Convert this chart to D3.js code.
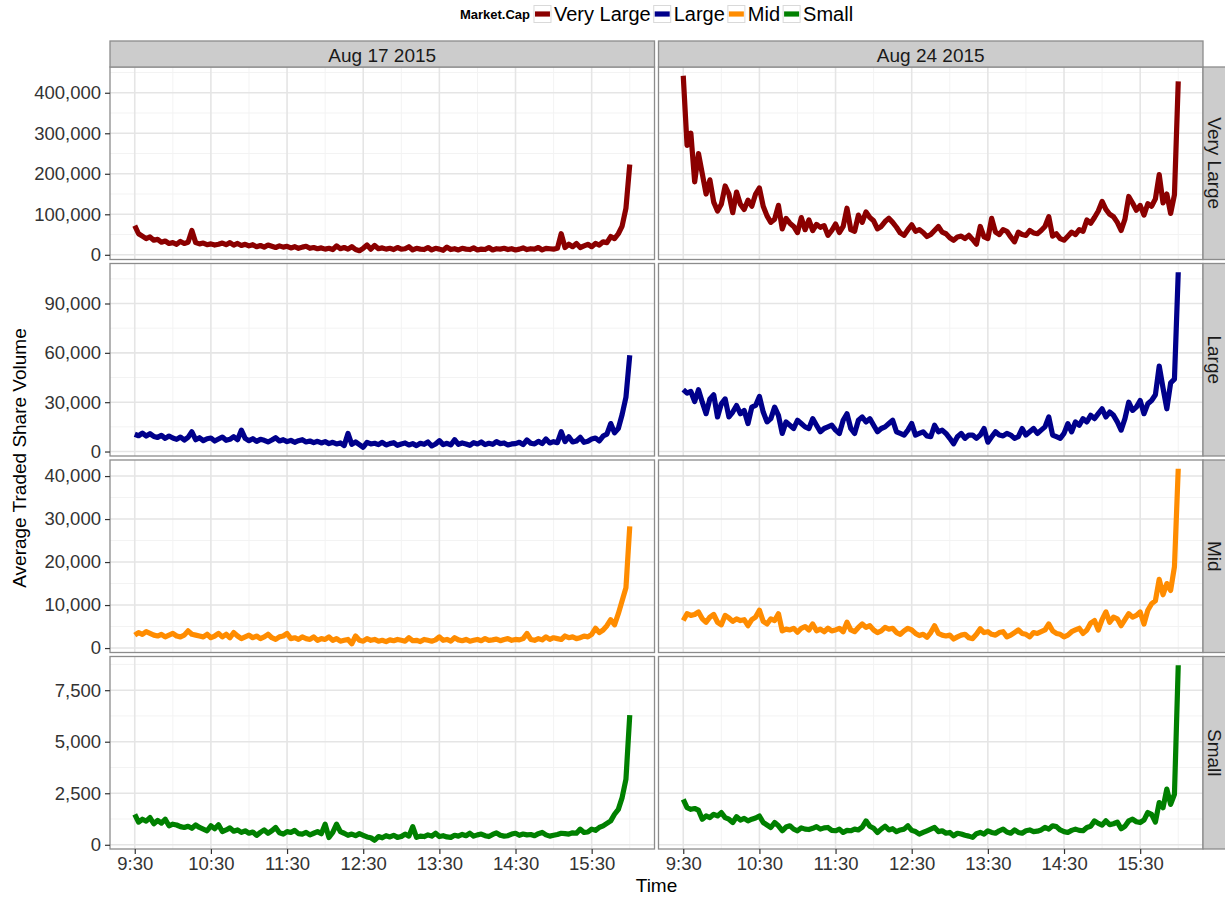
<!DOCTYPE html>
<html>
<head>
<meta charset="utf-8">
<script src="https://cdn.jsdelivr.net/npm/d3@7"></script>
<style>
  body { margin: 0; background: #fff; }
  text { font-family: "Liberation Sans", Arial, Helvetica, sans-serif; }
</style>
</head>
<body>
<svg id="chart" width="1225" height="901"></svg>
<script>
// ---- facets and styling keys ----
const dates = ["Aug 17 2015", "Aug 24 2015"];
const caps = ["Very Large", "Large", "Mid", "Small"];
const capColors = ["#8B0000", "#00008B", "#FF8C00", "#008000"];

// ---- time axis: samples every 3 minutes from 9:30 to 16:00 ----
const stepMinutes = 3;
const timeTickMinutes = [0, 60, 120, 180, 240, 300, 360];
const timeTickLabels = ["9:30", "10:30", "11:30", "12:30", "13:30", "14:30", "15:30"];

// ---- y ticks per market-cap row ----
const yTicksVeryLarge = [0, 100000, 200000, 300000, 400000];
const yTicksLarge = [0, 30000, 60000, 90000];
const yTicksMid = [0, 10000, 20000, 30000, 40000];
const yTicksSmall = [0, 2500, 5000, 7500];

// ---- average traded share volume (thousands of shares) ----
const veryLargeAug17 = [
  72, 52, 46, 40, 44, 36, 38, 31, 34, 28,
  30, 26, 33, 28, 31, 60, 30, 27, 29, 25,
  27, 24, 26, 29, 25, 30, 24, 28, 23, 26,
  22, 25, 20, 23, 19, 24, 21, 18, 22, 19,
  21, 17, 20, 16, 19, 21, 16, 18, 15, 17,
  14, 16, 13, 22, 15, 18, 14, 20, 13, 10,
  16, 24, 14, 23, 15, 17, 14, 16, 13, 18,
  14, 15, 20, 12, 16, 14, 13, 18, 12, 16,
  14, 11, 19, 13, 15, 12, 16, 14, 13, 17,
  12, 14, 13, 18, 12, 15, 14, 16, 13, 15,
  12, 14, 17, 13, 15, 14, 18, 12, 16, 15,
  14, 16, 52, 18, 26, 20, 28, 18, 22, 26,
  20, 28, 24, 32, 30, 45, 40, 52, 71, 115, 223
];
const veryLargeAug24 = [
  442, 270, 300, 180, 250, 200, 150, 185, 130, 108,
  125, 170, 150, 104, 155, 125, 112, 135, 120, 150,
  165, 120, 96, 80, 88, 122, 64, 90, 78, 70,
  55, 92, 62, 86, 60, 75, 68, 72, 48, 60,
  76, 55, 70, 115, 62, 58, 98, 80, 106, 92,
  84, 64, 70, 82, 90, 80, 68, 54, 48, 62,
  74, 58, 62, 55, 45, 50, 60, 70, 56, 52,
  42, 36, 44, 46, 40, 48, 38, 26, 70, 44,
  40, 90, 56, 50, 62, 58, 44, 32, 56, 50,
  48, 60, 54, 52, 60, 70, 94, 46, 52, 40,
  36, 46, 56, 50, 62, 58, 86, 78, 92, 108,
  132, 112, 100, 94, 80, 60, 88, 144, 128, 110,
  122, 98, 126, 120, 138, 198, 128, 150, 102, 148, 428
];
const largeAug17 = [
  10.5, 9.6, 11.2, 9.4, 10.8, 9.2, 8.6, 9.8, 8.0, 9.4,
  8.2, 7.4, 8.8, 7.0, 8.6, 12.0, 7.2, 8.4, 6.6, 7.8,
  8.2, 6.4, 7.6, 8.8, 6.8, 7.4, 9.0, 7.2, 13.0, 8.0,
  6.6, 7.8, 6.2, 7.4, 6.8, 5.8, 7.0, 8.4, 6.4, 7.2,
  6.0, 6.8, 5.6, 6.6, 7.2, 5.8, 6.4, 5.4, 6.2, 5.2,
  6.0, 4.8, 5.6, 4.6, 5.2, 3.6, 11.0, 4.4, 5.8, 4.2,
  2.6, 5.6, 4.6, 5.0, 4.2, 5.6, 4.0, 4.8, 5.4, 3.8,
  4.6, 5.2, 4.0, 4.8, 3.6, 5.0, 4.4, 5.8, 3.4, 4.6,
  6.6, 4.2, 5.0, 4.0, 7.2, 4.4, 5.2, 4.6, 3.8, 5.4,
  4.6, 5.8, 4.2, 5.0, 4.4, 6.0, 4.8, 5.2, 4.0, 4.6,
  4.8, 5.6, 4.2, 7.0, 5.0, 4.6, 6.2, 4.8, 7.6, 5.2,
  6.0, 5.4, 12.0, 6.0, 9.0, 5.8, 6.4, 8.6, 5.6, 6.2,
  7.6, 8.2, 6.4, 9.4, 10.6, 17.0, 11.4, 14.0, 22.5, 33.0, 58.5
];
const largeAug24 = [
  37.6, 35.5, 36.5, 30.4, 37.6, 30.0, 23.0, 32.0, 34.5, 21.0,
  29.0, 32.0, 21.0, 24.0, 28.0, 23.0, 25.0, 17.0, 27.0, 28.0,
  33.5, 24.0, 18.0, 20.0, 27.0, 22.0, 11.0, 18.0, 16.0, 14.0,
  19.0, 17.0, 15.0, 14.0, 20.0, 16.0, 12.0, 14.0, 15.0, 16.0,
  13.0, 11.0, 19.0, 23.0, 14.0, 11.0, 19.0, 21.0, 18.0, 20.0,
  16.0, 12.0, 14.0, 15.0, 17.0, 19.0, 12.0, 11.0, 10.0, 13.0,
  17.0, 10.0, 11.0, 12.0, 9.5, 9.0, 16.0, 12.0, 13.0, 11.0,
  8.0, 4.7, 9.0, 11.0, 8.0, 10.0, 10.0, 8.0, 10.0, 14.0,
  5.7, 9.0, 12.0, 10.0, 9.5, 11.0, 10.0, 8.0, 9.0, 14.0,
  10.0, 12.0, 14.0, 11.0, 13.0, 15.0, 21.0, 10.0, 9.0, 8.0,
  11.0, 17.0, 12.0, 18.0, 16.0, 20.0, 18.0, 22.0, 20.0, 23.0,
  26.0, 21.0, 24.0, 22.0, 18.0, 13.0, 20.0, 30.0, 25.0, 27.0,
  31.0, 23.0, 29.0, 31.0, 34.5, 52.0, 38.6, 26.0, 41.7, 44.0, 109.0
];
const midAug17 = [
  3.0, 3.6, 3.2, 3.8, 3.4, 3.0, 2.8, 3.2, 2.6, 3.0,
  3.4, 2.8, 2.6, 3.0, 4.0, 3.2, 3.0, 2.8, 2.6, 3.2,
  2.4, 2.8, 3.4, 2.6, 3.2, 2.4, 3.6, 2.8, 2.2, 2.6,
  3.0, 2.4, 2.8, 2.2, 2.6, 3.2, 2.4, 2.0, 2.6, 2.8,
  3.4, 2.2, 2.4, 2.0, 2.6, 2.2, 2.0, 2.6, 1.8, 2.2,
  2.0, 2.6, 1.8, 2.2, 1.6, 1.8, 2.0, 1.0, 2.8, 1.8,
  1.6, 2.2, 1.8, 2.0, 1.6, 1.8, 1.5, 1.9, 1.7, 2.0,
  1.8, 1.6, 2.4, 1.7, 1.8, 1.5, 2.0, 1.8, 1.6, 1.9,
  2.6, 1.8, 2.0, 1.6, 2.4, 1.9, 1.7, 2.0, 1.6, 1.8,
  2.0, 1.7, 2.2, 1.8, 1.9, 2.1, 1.7, 2.0, 2.2, 1.8,
  2.0, 1.9, 2.2, 3.4, 2.0, 1.8, 2.2, 1.9, 2.6, 2.0,
  2.4, 2.2, 2.0, 2.8, 2.4, 2.6, 2.2, 2.4, 2.8, 2.6,
  3.2, 4.6, 3.6, 4.2, 5.2, 6.6, 5.4, 8.0, 11.0, 14.0, 28.3
];
const midAug24 = [
  6.4, 8.0, 7.6, 7.8, 8.4, 6.8, 6.0, 7.2, 7.8, 6.0,
  5.4, 7.6, 7.0, 6.2, 6.8, 6.4, 6.6, 5.2, 6.6, 7.2,
  8.8, 6.2, 5.6, 6.8, 6.4, 8.0, 4.0, 4.4, 4.2, 4.6,
  3.7, 4.6, 5.0, 4.2, 5.6, 4.0, 4.4, 3.8, 4.6, 4.0,
  4.2, 4.6, 3.8, 6.0, 4.2, 3.8, 4.8, 5.6, 4.8, 5.2,
  4.2, 3.6, 4.0, 4.8, 4.4, 4.6, 3.6, 3.2, 4.0, 4.6,
  4.2, 3.4, 2.9, 3.2, 2.5, 3.6, 5.2, 3.4, 3.0, 2.8,
  3.0, 2.1, 2.6, 3.0, 3.2, 2.4, 2.2, 3.2, 4.5, 3.6,
  3.8, 3.2, 3.0, 3.6, 3.8, 2.6, 3.0, 3.6, 4.2, 3.4,
  3.2, 2.6, 3.6, 3.4, 3.8, 4.2, 5.6, 4.0, 3.4, 3.2,
  2.6, 3.0, 3.8, 4.2, 4.6, 3.4, 4.2, 5.8, 6.4, 4.2,
  6.6, 8.4, 6.0, 7.2, 6.8, 5.2, 6.6, 8.0, 7.2, 7.6,
  8.4, 5.6, 8.8, 10.3, 11.0, 16.0, 12.4, 15.0, 13.4, 18.9, 41.7
];
// ---- small caps (shares) ----
const smallAug17 = [
  1480, 1100, 1240, 1150, 1320, 1020, 1180, 1050, 1240, 920,
  1000, 960, 880, 840, 900, 800, 960, 840, 760, 680,
  920, 780, 970, 640, 720, 820, 660, 720, 600, 680,
  560, 620, 460, 600, 720, 560, 680, 840, 580, 520,
  640, 600, 700, 540, 520, 600, 480, 560, 640, 540,
  1000, 355, 600, 1000, 640, 560, 460, 520, 440, 540,
  460, 380, 340, 220, 400, 340, 440, 380, 460, 360,
  400, 520, 420, 880, 360, 420, 400, 480, 420, 560,
  400, 440, 380, 360, 460, 420, 500, 440, 560, 420,
  480, 520, 440, 400, 500, 580, 460, 420, 440, 520,
  560, 460, 520, 480, 500, 440, 540, 600, 480, 420,
  460, 500, 560, 540, 520, 580, 560, 760, 600, 620,
  760, 700, 840, 920, 1040, 1160, 1480, 1720, 2290, 3180, 6290
];
const smallAug24 = [
  2200, 1800, 1720, 1760, 1680, 1240, 1400, 1320, 1480, 1400,
  1560, 1320, 1240, 1080, 1360, 1200, 1280, 1160, 1240, 1300,
  1400, 1080, 960, 840, 1080, 920, 680, 860, 920, 760,
  680, 820, 760, 740, 800, 880, 760, 820, 840, 700,
  680, 760, 600, 700, 680, 760, 720, 860, 1160, 900,
  800, 600, 760, 900, 720, 780, 640, 720, 760, 920,
  700, 640, 520, 600, 680, 760, 840, 640, 680, 560,
  600, 440, 560, 520, 460, 420, 360, 540, 600, 520,
  680, 600, 560, 680, 760, 620, 560, 720, 600, 560,
  680, 720, 640, 660, 720, 840, 760, 920, 880, 720,
  640, 600, 700, 760, 700, 680, 840, 900, 1160, 1040,
  960, 1160, 980, 1020, 1100, 780, 900, 1160, 1240, 1120,
  1080, 1200, 1565, 1480, 1100, 2050, 1800, 2700, 1960, 2450, 8710
];

// rows of the facet grid: [Aug 17 series, Aug 24 series, unit multiplier, y ticks]
const rows = [
  { cap: caps[0], color: capColors[0], series: [veryLargeAug17, veryLargeAug24], unit: 1000, ticks: yTicksVeryLarge },
  { cap: caps[1], color: capColors[1], series: [largeAug17, largeAug24], unit: 1000, ticks: yTicksLarge },
  { cap: caps[2], color: capColors[2], series: [midAug17, midAug24], unit: 1000, ticks: yTicksMid },
  { cap: caps[3], color: capColors[3], series: [smallAug17, smallAug24], unit: 1, ticks: yTicksSmall }
];

// ---- layout ----
const svg = d3.select("#chart");
const panelLeft = 110, panelRight = 1203, colGap = 4;
const panelTop = 67, panelBottom = 849, rowGap = 4;
const stripH = 26, stripW = 25;
const colW = (panelRight - panelLeft - colGap) / 2;
const rowH = (panelBottom - panelTop - 3 * rowGap) / 4;
const colX = i => panelLeft + i * (colW + colGap);
const rowY = j => panelTop + j * (rowH + rowGap);

const GRID_MAJOR = "#E5E5E5", GRID_MINOR = "#F3F3F3", BORDER = "#8C8C8C";
const TICK_TEXT = "#333333";
const LINE_W = 5.2;

// x scale (minutes after 9:30), padded 5% each side
const nPts = veryLargeAug17.length;
const tMax = (nPts - 1) * stepMinutes;
const xPad = 0.05 * tMax;
const x = d3.scaleLinear().domain([-xPad, tMax + xPad]).range([0, colW]);
const xMinor = d3.range(30, tMax + xPad, 60);

svg.append("rect").attr("width", 1225).attr("height", 901).attr("fill", "#fff");

rows.forEach((row, j) => {
  const vals = row.series.map(s => s.map(v => v * row.unit));
  const all = vals.flat();
  const lo = d3.min(all), hi = d3.max(all), pad = 0.05 * (hi - lo);
  const y = d3.scaleLinear().domain([lo - pad, hi + pad]).range([rowH, 0]);
  const step = row.ticks[1] - row.ticks[0];
  const yMinor = d3.range(row.ticks[0] - step / 2, hi + pad, step).filter(v => v > lo - pad);

  vals.forEach((s, i) => {
    const g = svg.append("g").attr("transform", `translate(${colX(i)},${rowY(j)})`);
    g.append("rect").attr("width", colW).attr("height", rowH).attr("fill", "#fff");

    // minor grid
    g.selectAll(".xm").data(xMinor).join("line")
      .attr("x1", d => x(d)).attr("x2", d => x(d)).attr("y1", 0).attr("y2", rowH)
      .attr("stroke", GRID_MINOR).attr("stroke-width", 1);
    g.selectAll(".ym").data(yMinor).join("line")
      .attr("x1", 0).attr("x2", colW).attr("y1", d => y(d)).attr("y2", d => y(d))
      .attr("stroke", GRID_MINOR).attr("stroke-width", 1);
    // major grid
    g.selectAll(".xM").data(timeTickMinutes).join("line")
      .attr("x1", d => x(d)).attr("x2", d => x(d)).attr("y1", 0).attr("y2", rowH)
      .attr("stroke", GRID_MAJOR).attr("stroke-width", 1.6);
    g.selectAll(".yM").data(row.ticks).join("line")
      .attr("x1", 0).attr("x2", colW).attr("y1", d => y(d)).attr("y2", d => y(d))
      .attr("stroke", GRID_MAJOR).attr("stroke-width", 1.6);

    // volume line
    const line = d3.line().x((d, k) => x(k * stepMinutes)).y(d => y(d));
    g.append("path").datum(s).attr("d", line)
      .attr("fill", "none").attr("stroke", row.color)
      .attr("stroke-width", LINE_W).attr("stroke-linejoin", "round");

    g.append("rect").attr("width", colW).attr("height", rowH)
      .attr("fill", "none").attr("stroke", BORDER).attr("stroke-width", 1.3);

    // y axis on the left column only
    if (i === 0) {
      const ax = g.append("g").call(
        d3.axisLeft(y).tickValues(row.ticks).tickFormat(d3.format(",")).tickSize(5).tickPadding(4)
      );
      ax.select(".domain").remove();
      ax.selectAll(".tick line").attr("stroke", "#333").attr("stroke-width", 1.2);
      ax.selectAll(".tick text").attr("fill", TICK_TEXT)
        .style("font-size", "18.5px").style("font-family", '"Liberation Sans", Arial, sans-serif');
    }
    // x axis on the bottom row only
    if (j === rows.length - 1) {
      const ax = g.append("g").attr("transform", `translate(0,${rowH})`).call(
        d3.axisBottom(x).tickValues(timeTickMinutes).tickFormat((d, k) => timeTickLabels[k]).tickSize(5).tickPadding(3)
      );
      ax.select(".domain").remove();
      ax.selectAll(".tick line").attr("stroke", "#333").attr("stroke-width", 1.2);
      ax.selectAll(".tick text").attr("fill", TICK_TEXT)
        .style("font-size", "18.5px").style("font-family", '"Liberation Sans", Arial, sans-serif');
    }
  });

  // row strip on the right
  const sy = rowY(j);
  svg.append("rect").attr("x", panelRight).attr("y", sy).attr("width", stripW).attr("height", rowH)
    .attr("fill", "#CCCCCC").attr("stroke", BORDER).attr("stroke-width", 1.3);
  svg.append("text")
    .attr("transform", `translate(${panelRight + stripW / 2 - 1},${sy + rowH / 2}) rotate(90)`)
    .attr("text-anchor", "middle").attr("dominant-baseline", "central")
    .style("font-size", "19px").attr("fill", "#1A1A1A").text(row.cap);
});

// column strips on top
dates.forEach((d, i) => {
  svg.append("rect").attr("x", colX(i)).attr("y", panelTop - stripH).attr("width", colW).attr("height", stripH)
    .attr("fill", "#CCCCCC").attr("stroke", BORDER).attr("stroke-width", 1.3);
  svg.append("text").attr("x", colX(i) + colW / 2).attr("y", panelTop - stripH / 2 + 1)
    .attr("text-anchor", "middle").attr("dominant-baseline", "central")
    .style("font-size", "19px").attr("fill", "#1A1A1A").text(d);
});

// axis titles
svg.append("text").attr("x", (panelLeft + panelRight) / 2).attr("y", 892)
  .attr("text-anchor", "middle").style("font-size", "19px").attr("fill", "#000").text("Time");
svg.append("text").attr("transform", `translate(26,${(panelTop + panelBottom) / 2}) rotate(-90)`)
  .attr("text-anchor", "middle").style("font-size", "19px").attr("fill", "#000")
  .text("Average Traded Share Volume");

// legend on top
const legend = svg.append("g");
const title = legend.append("text").attr("x", 0).attr("y", 0).attr("dominant-baseline", "central")
  .style("font-size", "13px").style("font-weight", "bold").attr("fill", "#000").text("Market.Cap");
let lx = title.node().getComputedTextLength() + 4;
const keySize = 17;
caps.forEach((c, i) => {
  legend.append("rect").attr("x", lx).attr("y", -keySize / 2).attr("width", keySize).attr("height", keySize)
    .attr("fill", "#fff").attr("stroke", "#D9D9D9").attr("stroke-width", 1);
  legend.append("line").attr("x1", lx + 1).attr("x2", lx + keySize - 1).attr("y1", 0).attr("y2", 0)
    .attr("stroke", capColors[i]).attr("stroke-width", LINE_W);
  lx += keySize + 3;
  const t = legend.append("text").attr("x", lx).attr("y", 0).attr("dominant-baseline", "central")
    .style("font-size", "20px").attr("fill", "#000").text(c);
  lx += t.node().getComputedTextLength() + 3;
});
lx -= 3;
legend.attr("transform", `translate(${(panelLeft + panelRight) / 2 - lx / 2},14)`);
</script>
</body>
</html>
